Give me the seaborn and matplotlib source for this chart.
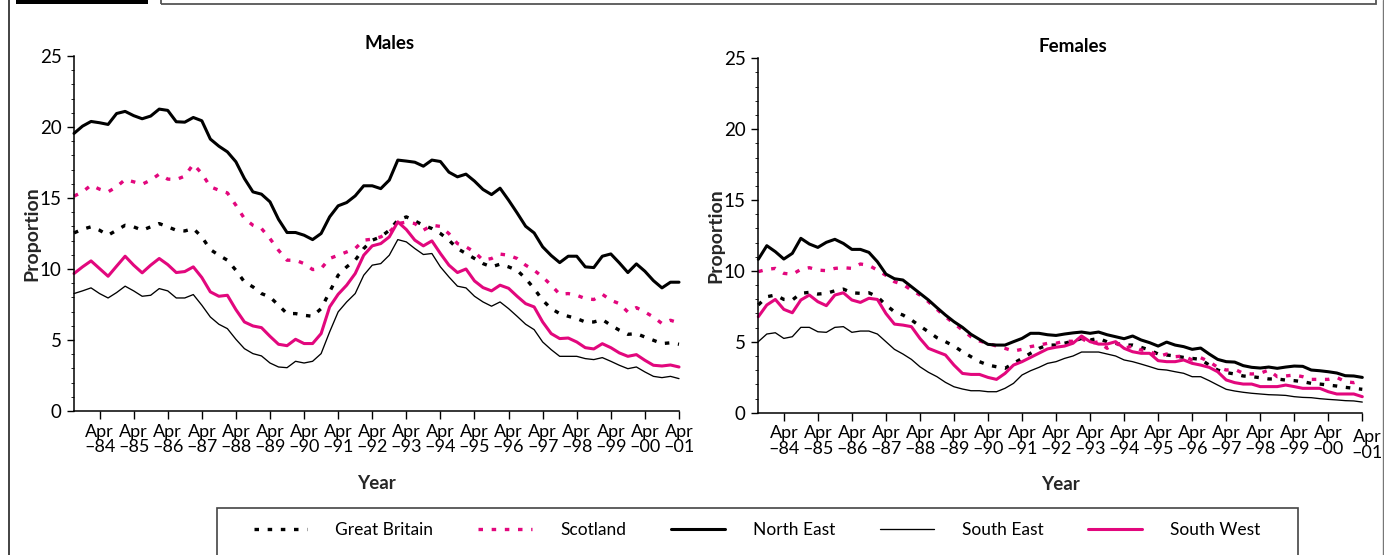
import matplotlib
matplotlib.use("Agg")
import matplotlib.pyplot as plt
import matplotlib.transforms as mtransforms
from matplotlib.lines import Line2D
from matplotlib.patches import Rectangle
from matplotlib.ticker import MultipleLocator
import numpy as np
import pandas as pd
import seaborn as sns

# Quarterly observations, Jul 1983 to Apr 2001
quarters = pd.period_range("1983Q3", "2001Q2", freq="Q")
regions = ["Great Britain", "Scotland", "North East", "South East", "South West"]

males_gb = [12.54, 12.8, 12.97, 12.73, 12.38, 12.73, 13.08, 12.97, 12.73, 12.97, 13.2, 12.97,
            12.73, 12.68, 12.85, 12.26, 11.37, 10.97, 10.62, 9.91, 9.09, 8.74, 8.27, 8.03,
            7.45, 6.86, 6.86, 6.74, 6.67, 7.21, 8.39, 9.56, 10.15, 10.62, 11.44, 12.03,
            12.26, 12.73, 13.44, 13.67, 13.39, 13.08, 12.85, 12.5, 12.03, 11.44, 11.09, 10.74,
            10.38, 10.15, 10.34, 10.15, 9.91, 9.33, 8.62, 7.8, 7.21, 6.86, 6.67, 6.51,
            6.27, 6.27, 6.44, 6.04, 5.69, 5.4, 5.45, 5.21, 4.98, 4.75, 4.8, 4.7]
males_scotland = [15.13, 15.43, 15.9, 15.62, 15.43, 15.79, 16.3, 16.14, 15.97, 16.26, 16.68, 16.33,
                  16.3, 16.54, 17.38, 16.73, 15.79, 15.55, 15.36, 14.49, 13.55, 13.08, 12.85, 12.14,
                  11.32, 10.62, 10.62, 10.38, 9.96, 10.03, 10.74, 10.97, 11.2, 11.44, 12.03, 12.1,
                  12.26, 12.6, 13.2, 13.3, 13.2, 12.73, 13.08, 13.0, 12.49, 11.79, 11.56, 11.2,
                  10.62, 10.74, 11.05, 10.97, 10.74, 10.27, 9.91, 9.44, 8.86, 8.22, 8.27, 8.15,
                  7.92, 7.85, 8.22, 7.8, 7.56, 6.97, 7.28, 6.97, 6.62, 6.16, 6.39, 6.2]
males_north_east = [19.55, 20.06, 20.39, 20.3, 20.18, 20.95, 21.1, 20.8, 20.58, 20.77, 21.26, 21.17,
                    20.37, 20.34, 20.67, 20.44, 19.15, 18.65, 18.25, 17.55, 16.37, 15.43, 15.27, 14.73,
                    13.5, 12.57, 12.57, 12.38, 12.07, 12.5, 13.67, 14.45, 14.68, 15.15, 15.86, 15.86,
                    15.66, 16.26, 17.67, 17.6, 17.52, 17.24, 17.67, 17.57, 16.82, 16.49, 16.68, 16.19,
                    15.6, 15.24, 15.69, 14.85, 13.95, 13.01, 12.54, 11.56, 10.95, 10.45, 10.9, 10.9,
                    10.15, 10.1, 10.9, 11.06, 10.43, 9.75, 10.36, 9.84, 9.18, 8.67, 9.07, 9.07]
males_south_east = [8.27, 8.46, 8.67, 8.27, 7.96, 8.34, 8.79, 8.46, 8.08, 8.15, 8.62, 8.46,
                    7.96, 7.96, 8.2, 7.45, 6.62, 6.11, 5.8, 5.05, 4.39, 4.04, 3.88, 3.38,
                    3.1, 3.05, 3.5, 3.38, 3.5, 4.04, 5.57, 6.98, 7.68, 8.27, 9.56, 10.27,
                    10.38, 10.97, 12.07, 11.91, 11.44, 11.02, 11.09, 10.15, 9.44, 8.79, 8.67, 8.08,
                    7.68, 7.38, 7.68, 7.21, 6.67, 6.11, 5.73, 4.86, 4.32, 3.85, 3.85, 3.85,
                    3.69, 3.62, 3.76, 3.5, 3.22, 2.98, 3.1, 2.75, 2.44, 2.35, 2.44, 2.28]
males_south_west = [9.68, 10.15, 10.57, 10.03, 9.49, 10.2, 10.9, 10.27, 9.73, 10.27, 10.74, 10.31,
                    9.75, 9.82, 10.15, 9.4, 8.39, 8.08, 8.15, 7.14, 6.27, 5.99, 5.87, 5.26,
                    4.7, 4.6, 5.05, 4.75, 4.75, 5.45, 7.33, 8.22, 8.86, 9.68, 10.97, 11.63,
                    11.79, 12.26, 13.32, 12.78, 12.03, 11.63, 11.98, 11.09, 10.27, 9.75, 10.0, 9.16,
                    8.69, 8.46, 8.86, 8.64, 8.08, 7.56, 7.33, 6.27, 5.45, 5.1, 5.14, 4.86,
                    4.46, 4.37, 4.74, 4.46, 4.09, 3.85, 3.97, 3.57, 3.22, 3.17, 3.24, 3.1]

females_gb = [7.6, 8.18, 8.3, 7.99, 7.95, 8.42, 8.49, 8.37, 8.42, 8.6, 8.72, 8.46,
              8.42, 8.46, 8.18, 7.6, 7.12, 6.89, 6.54, 6.11, 5.71, 5.29, 5.01, 4.7,
              4.3, 3.95, 3.6, 3.36, 3.24, 3.13, 3.48, 3.83, 4.19, 4.54, 4.77, 4.77,
              4.9, 5.05, 5.24, 5.13, 5.24, 5.0, 4.89, 4.77, 4.77, 4.61, 4.42, 4.14,
              4.07, 4.0, 3.9, 3.83, 3.76, 3.36, 3.01, 2.83, 2.73, 2.59, 2.54, 2.47,
              2.38, 2.38, 2.3, 2.26, 2.19, 2.07, 2.02, 1.95, 1.88, 1.79, 1.72, 1.65]
females_scotland = [9.95, 10.11, 10.18, 9.83, 9.76, 10.11, 10.23, 10.06, 10.02, 10.18, 10.23, 10.18,
                    10.49, 10.39, 10.06, 9.69, 9.24, 9.05, 8.65, 8.3, 7.83, 7.29, 6.77, 6.3,
                    5.83, 5.36, 5.06, 4.89, 4.7, 4.54, 4.35, 4.47, 4.66, 4.77, 4.89, 4.9,
                    5.04, 5.04, 5.24, 4.89, 5.0, 4.54, 4.94, 4.54, 4.7, 4.42, 4.37, 3.95,
                    4.14, 3.95, 4.0, 3.72, 3.88, 3.6, 3.2, 3.01, 3.06, 2.78, 2.73, 2.78,
                    3.01, 2.54, 2.59, 2.66, 2.54, 2.35, 2.35, 2.35, 2.49, 2.19, 2.12, 2.3]
females_north_east = [10.82, 11.78, 11.36, 10.84, 11.24, 12.3, 11.9, 11.66, 12.02, 12.23, 11.94, 11.52,
                      11.52, 11.31, 10.65, 9.78, 9.45, 9.36, 8.89, 8.42, 7.95, 7.41, 6.89, 6.42,
                      6.02, 5.53, 5.17, 4.82, 4.77, 4.77, 5.01, 5.24, 5.6, 5.6, 5.5, 5.45,
                      5.55, 5.63, 5.69, 5.6, 5.69, 5.5, 5.36, 5.22, 5.41, 5.13, 4.94, 4.7,
                      4.98, 4.77, 4.66, 4.47, 4.56, 4.14, 3.76, 3.6, 3.57, 3.32, 3.2, 3.15,
                      3.22, 3.13, 3.22, 3.29, 3.27, 3.01, 2.96, 2.89, 2.8, 2.61, 2.59, 2.49]
females_south_east = [5.01, 5.55, 5.64, 5.24, 5.36, 6.02, 6.02, 5.71, 5.67, 6.02, 6.07, 5.67,
                      5.76, 5.76, 5.55, 5.01, 4.47, 4.14, 3.76, 3.24, 2.85, 2.54, 2.14, 1.83,
                      1.67, 1.55, 1.55, 1.48, 1.48, 1.72, 2.07, 2.66, 2.96, 3.2, 3.48, 3.6,
                      3.83, 4.0, 4.28, 4.28, 4.28, 4.14, 4.0, 3.72, 3.6, 3.43, 3.25, 3.06,
                      3.01, 2.89, 2.78, 2.54, 2.54, 2.26, 1.95, 1.65, 1.53, 1.44, 1.37, 1.32,
                      1.27, 1.25, 1.22, 1.13, 1.08, 1.06, 0.99, 0.94, 0.9, 0.85, 0.83, 0.75]
females_south_west = [6.77, 7.6, 7.99, 7.29, 7.05, 7.95, 8.3, 7.83, 7.55, 8.3, 8.46, 7.95,
                      7.78, 8.07, 7.99, 7.0, 6.25, 6.18, 6.07, 5.24, 4.54, 4.3, 4.07, 3.36,
                      2.77, 2.7, 2.7, 2.49, 2.35, 2.77, 3.36, 3.6, 3.9, 4.2, 4.5, 4.62,
                      4.7, 4.9, 5.41, 5.01, 4.84, 4.84, 5.01, 4.54, 4.3, 4.19, 4.19, 3.67,
                      3.6, 3.6, 3.72, 3.48, 3.36, 3.2, 2.89, 2.31, 2.12, 2.02, 2.02, 1.84,
                      1.84, 1.84, 1.95, 1.84, 1.72, 1.72, 1.72, 1.48, 1.32, 1.32, 1.32, 1.13]

tick_years = list(range(1984, 2002))
tick_labels = [f"Apr\n\u2013{y % 100:02d}" for y in tick_years]

PINK = "#E2077D"
palette = {"Great Britain": "black", "Scotland": PINK, "North East": "black",
           "South East": "black", "South West": PINK}
widths = {"Great Britain": 2.4, "Scotland": 2.4, "North East": 2.2,
          "South East": 0.95, "South West": 2.2}
DOTS = (1.35, 2.6)
dash_map = {"Great Britain": DOTS, "Scotland": DOTS, "North East": "",
            "South East": "", "South West": ""}


def long_frame(series):
    x = quarters.year + (quarters.quarter - 1) / 4.0
    parts = [pd.DataFrame({"x": x, "value": vals, "region": name})
             for name, vals in zip(regions, series)]
    return pd.concat(parts, ignore_index=True)


sns.set_theme(style="ticks")
plt.rcParams["font.family"] = ["Lato", "DejaVu Sans"]
plt.rcParams["axes.edgecolor"] = "black"
plt.rcParams["xtick.color"] = "black"
plt.rcParams["ytick.color"] = "black"
plt.rcParams["text.color"] = "black"

W, H = 1384, 555
fig = plt.figure(figsize=(W / 100, H / 100), dpi=100)
fig.patch.set_facecolor("white")


def px_box(x0, y_top, x1, y_bot):
    return [x0 / W, 1 - y_bot / H, (x1 - x0) / W, (y_bot - y_top) / H]


ax_m = fig.add_axes(px_box(74, 56, 679, 411))
ax_f = fig.add_axes(px_box(758.3, 58.3, 1362.3, 412.7))

panels = [
    (ax_m, "Males", [males_gb, males_scotland, males_north_east, males_south_east, males_south_west]),
    (ax_f, "Females", [females_gb, females_scotland, females_north_east, females_south_east, females_south_west]),
]

for ax, title, series in panels:
    df = long_frame(series)
    sns.lineplot(data=df, x="x", y="value", hue="region", style="region", size="region",
                 hue_order=regions, style_order=regions, size_order=regions,
                 palette=palette, dashes=dash_map, sizes=widths,
                 estimator=None, sort=False, legend=False, ax=ax)
    for ln in ax.get_lines():
        ln.set_clip_on(False)
        ln.set_solid_joinstyle("round")

    ax.set_xlim(1983.5, 2001.25)
    ax.set_ylim(0, 25)
    ax.set_xticks([y + 0.25 for y in tick_years])
    ax.set_xticklabels(tick_labels, linespacing=1.0)
    ax.yaxis.set_major_locator(MultipleLocator(5))
    ax.yaxis.set_minor_locator(MultipleLocator(1))
    ax.tick_params(axis="x", which="major", direction="out", length=6, width=1.0,
                   labelsize=13, pad=3)
    ax.tick_params(axis="y", which="major", direction="out", length=5, width=1.0,
                   labelsize=13.5, pad=4)
    ax.tick_params(axis="y", which="minor", direction="out", length=2, width=0.6)
    ax.tick_params(axis="x", which="minor", length=0)
    sns.despine(ax=ax)
    for side in ("left", "bottom"):
        ax.spines[side].set_linewidth(1.1)

    ax.set_ylabel("Proportion", fontsize=14, fontweight="bold", va="center")
    ax.yaxis.set_label_coords(-0.0695, 0.5)
    ax.set_xlabel("Year", fontsize=13.5, fontweight="bold", va="center")
    ax.xaxis.set_label_coords(0.5, -0.203)
    ax.text(0.521, 1.034, title, transform=ax.transAxes, ha="center", va="center",
            fontsize=13.5, fontweight="bold")

# the final label of the female panel sits a little lower and to the right
last = ax_f.get_xticklabels()[-1]
last.set_transform(last.get_transform()
                   + mtransforms.ScaledTranslation(0.05, -0.04, fig.dpi_scale_trans))

# Legend along the bottom
handles = []
for r in regions:
    ls = (0, DOTS) if dash_map[r] else "-"
    handles.append(Line2D([], [], color=palette[r], lw=widths[r], linestyle=ls))
fig.legend(handles, regions, loc="center", bbox_to_anchor=(757 / W, 1 - 530 / H),
           ncol=5, frameon=False, fontsize=12.5, handlelength=3.1,
           handletextpad=1.6, columnspacing=2.6)
fig.add_artist(Rectangle((217 / W, -0.05), (1298 - 217) / W, (555 - 508) / H + 0.05,
                         transform=fig.transFigure, fill=False, edgecolor="#444444", lw=1.2))

# Page furniture: side rules and header bars
fig.add_artist(Line2D([9 / W, 9 / W], [0, 1], transform=fig.transFigure, color="#222222", lw=1.2))
fig.add_artist(Line2D([1382.7 / W, 1382.7 / W], [0, 1], transform=fig.transFigure,
                      color="#777777", lw=1.0))
fig.add_artist(Rectangle((16 / W, 1 - 4 / H), (148 - 16) / W, 0.05,
                         transform=fig.transFigure, facecolor="black", edgecolor="none"))
fig.add_artist(Rectangle((161 / W, 1 - 3.5 / H), (1376 - 161) / W, 0.05,
                         transform=fig.transFigure, fill=False, edgecolor="#555555", lw=1.3))

fig.savefig("out.png", dpi=100, facecolor="white")
